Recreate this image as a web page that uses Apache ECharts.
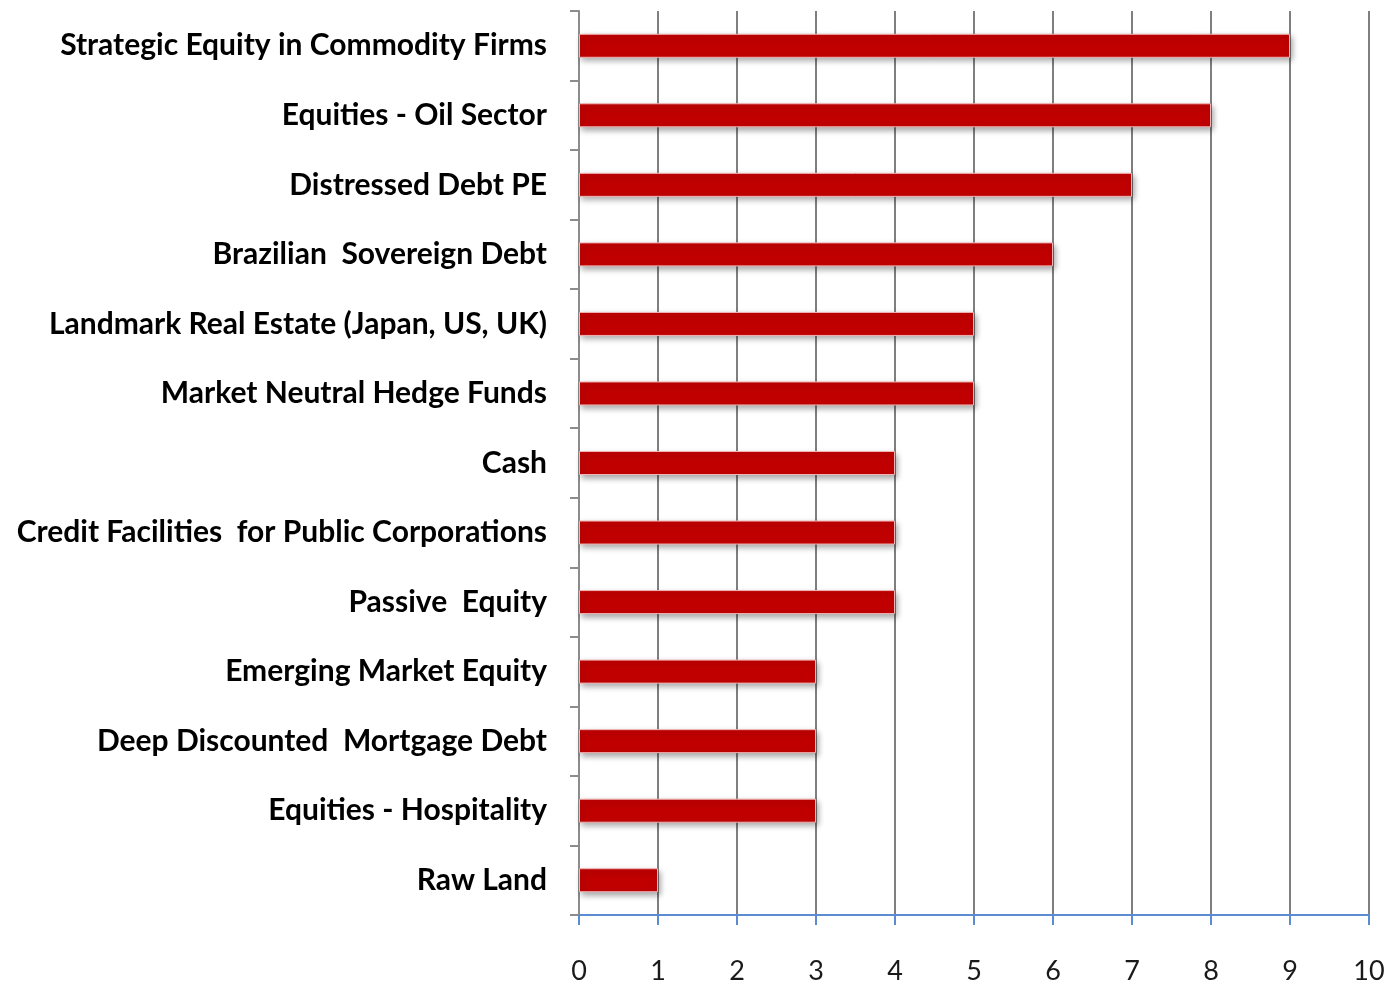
<!DOCTYPE html>
<html><head><meta charset="utf-8">
<script src="https://cdn.jsdelivr.net/npm/echarts@6/dist/echarts.min.js"></script>
<style>html,body{margin:0;padding:0;background:#fff}#c{width:1388px;height:985px}</style>
</head><body><div id="c"></div>
<script>
const categories = [
  "Strategic Equity in Commodity Firms",
  "Equities - Oil Sector",
  "Distressed Debt PE",
  "Brazilian  Sovereign Debt",
  "Landmark Real Estate (Japan, US, UK)",
  "Market Neutral Hedge Funds",
  "Cash",
  "Credit Facilities  for Public Corporations",
  "Passive  Equity",
  "Emerging Market Equity",
  "Deep Discounted  Mortgage Debt",
  "Equities - Hospitality",
  "Raw Land"
];
const values = [9, 8, 7, 6, 5, 5, 4, 4, 4, 3, 3, 3, 1];
const xTicks = [0,1,2,3,4,5,6,7,8,9,10];

const chart = echarts.init(document.getElementById('c'));
chart.setOption({
  animation: false,
  grid: {left: 579, right: 19, top: 11, bottom: 68},
  xAxis: {
    type: 'value', min: 0, max: 10, interval: 1,
    axisLine: {show: true, lineStyle: {color: '#5b8bd0', width: 2}},
    axisTick: {show: true, length: 10, lineStyle: {color: '#5b8bd0', width: 2}},
    axisLabel: {margin: 43, fontFamily: 'Lato', fontWeight: 400, fontSize: 27, color: '#1a1a1a',
      formatter: v => xTicks.includes(v) ? String(v) : ''},
    splitLine: {show: true, lineStyle: {color: '#7f7f7f', width: 2}}
  },
  yAxis: {
    type: 'category', data: categories, inverse: true,
    axisLine: {show: true, lineStyle: {color: '#8c8c8c', width: 2}},
    axisTick: {show: true, length: 9, lineStyle: {color: '#8c8c8c', width: 2}},
    axisLabel: {margin: 32, fontFamily: 'Lato', fontWeight: 700, fontSize: 30, color: '#000'}
  },
  series: [{
    type: 'bar', data: values, barWidth: 24,
    itemStyle: {color: '#c00000', borderColor: '#f2b4b4', borderWidth: 1,
      shadowColor: 'rgba(0,0,0,0.35)', shadowBlur: 6, shadowOffsetX: 2, shadowOffsetY: 3}
  }]
});
</script></body></html>
